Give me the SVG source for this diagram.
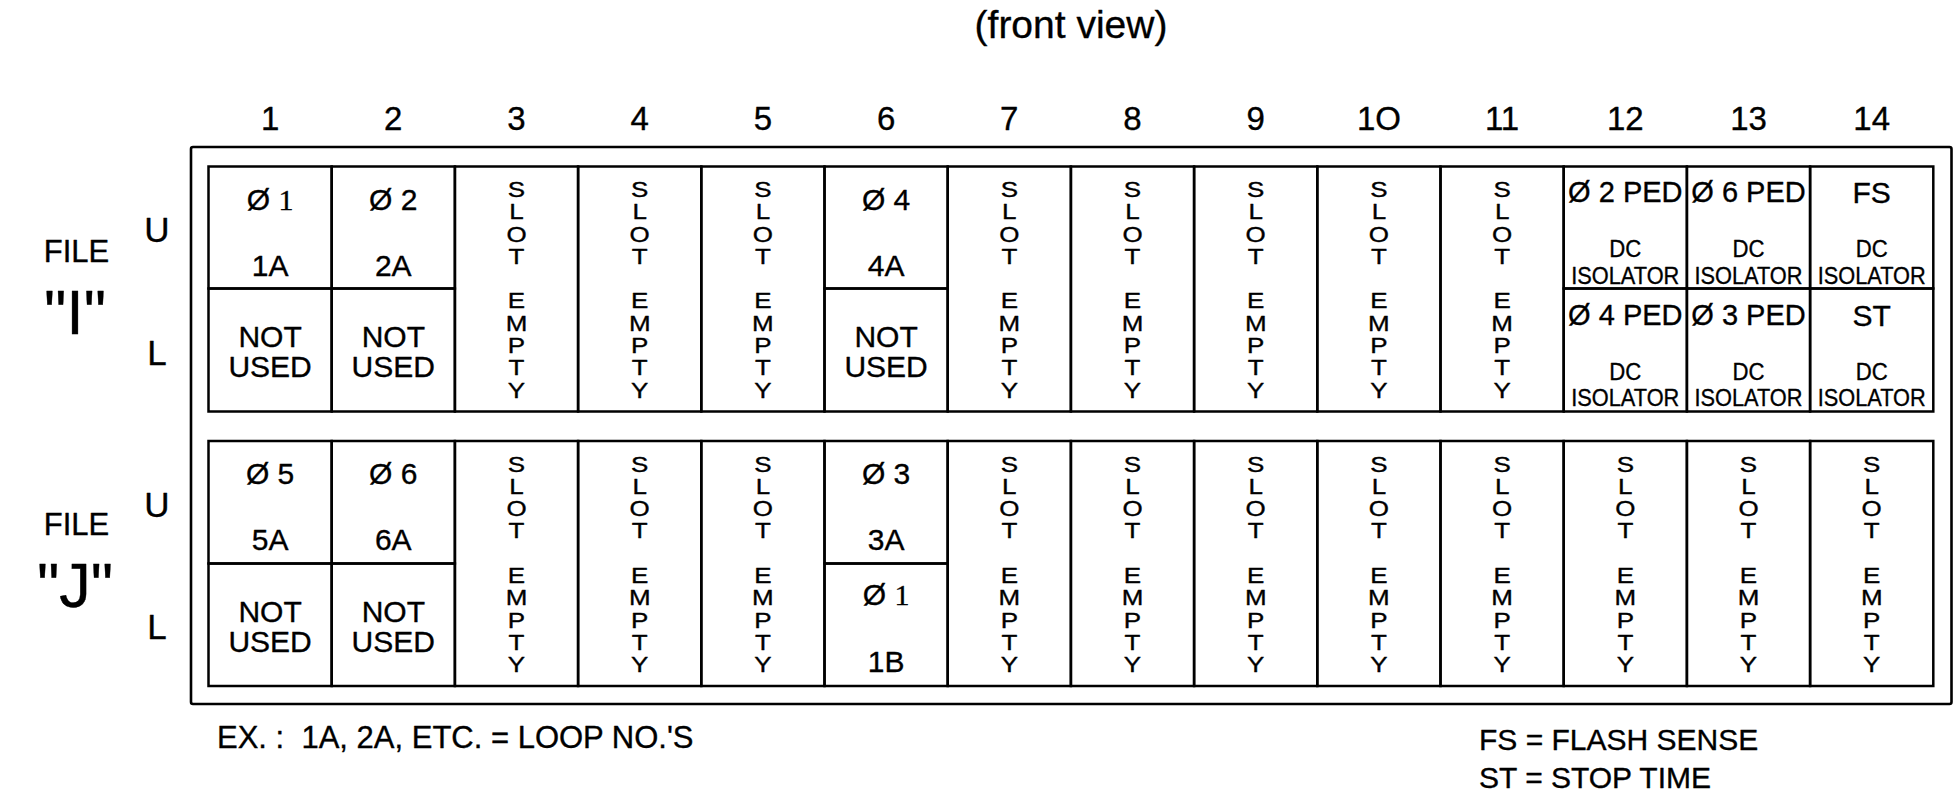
<svg xmlns="http://www.w3.org/2000/svg" width="1960" height="804" viewBox="0 0 1960 804">
<style>
text{font-family:"Liberation Sans",Arial,sans-serif;fill:#000;stroke:#000;stroke-width:0.35px;stroke-linejoin:round;text-anchor:middle}
.frame{fill:none;stroke:#000;stroke-width:2.6;stroke-linejoin:round}
.cell{fill:none;stroke:#000;stroke-width:2.5}
.hdr{font-size:33px}
.t30{font-size:30px}
.ped{font-size:29px}
.dc{font-size:24px}
.se{font-size:22px}
.file{font-size:31px}
.big{font-size:63px}
.ul{font-size:35px}
.note{font-size:30px;text-anchor:start}
.sf{font-family:"Liberation Serif",serif}
</style>
<rect width="1960" height="804" fill="#fff"/>
<text x="1071" y="38" style="font-size:39px">(front view)</text>
<g id="headers">
<text class="hdr" x="270.1" y="130">1</text>
<text class="hdr" x="393.3" y="130">2</text>
<text class="hdr" x="516.5" y="130">3</text>
<text class="hdr" x="639.7" y="130">4</text>
<text class="hdr" x="762.9" y="130">5</text>
<text class="hdr" x="886.1" y="130">6</text>
<text class="hdr" x="1009.3" y="130">7</text>
<text class="hdr" x="1132.5" y="130">8</text>
<text class="hdr" x="1255.7" y="130">9</text>
<text class="hdr" x="1378.9" y="130">1O</text>
<text class="hdr" x="1502.1" y="130">11</text>
<text class="hdr" x="1625.3" y="130">12</text>
<text class="hdr" x="1748.5" y="130">13</text>
<text class="hdr" x="1871.7" y="130">14</text>
</g>
<g id="outer-frame"><rect class="frame" x="191" y="147" width="1760.5" height="557" rx="2"/></g>
<g id="file-labels">
<text class="file" x="76.5" y="261.5">FILE</text>
<text class="big" x="75" y="334">"I"</text>
<text class="ul" x="157" y="242">U</text>
<text class="ul" x="157" y="365">L</text>
<text class="file" x="76.5" y="535">FILE</text>
<text class="big" x="75" y="607">"J"</text>
<text class="ul" x="157" y="516.5">U</text>
<text class="ul" x="157" y="638.5">L</text>
</g>
<defs>
<g id="slotU">
<text class="se" transform="scale(1.18 1)"><tspan x="0" y="0">S</tspan><tspan x="0" dy="22.3">L</tspan><tspan x="0" dy="22.3">O</tspan><tspan x="0" dy="22.3">T</tspan><tspan x="0" dy="44.6">E</tspan><tspan x="0" dy="22.3">M</tspan><tspan x="0" dy="22.3">P</tspan><tspan x="0" dy="22.3">T</tspan><tspan x="0" dy="22.3">Y</tspan></text>
</g>
</defs>
<g id="file-I">
<g id="I-1"><rect class="cell" x="208.5" y="166.5" width="123.2" height="122"/><rect class="cell" x="208.5" y="288.5" width="123.2" height="123"/>
<text class="t30" x="270.1" y="209.5">Ø <tspan class="sf">1</tspan></text><text class="t30" x="270.1" y="275.5">1A</text><text class="t30" x="270.1" y="346.5">NOT</text><text class="t30" x="270.1" y="376.5">USED</text></g>
<g id="I-2"><rect class="cell" x="331.7" y="166.5" width="123.2" height="122"/><rect class="cell" x="331.7" y="288.5" width="123.2" height="123"/>
<text class="t30" x="393.3" y="209.5">Ø 2</text><text class="t30" x="393.3" y="275.5">2A</text><text class="t30" x="393.3" y="346.5">NOT</text><text class="t30" x="393.3" y="376.5">USED</text></g>
<g id="I-3"><rect class="cell" x="454.9" y="166.5" width="123.2" height="245"/><use href="#slotU" x="516.5" y="197"/></g>
<g id="I-4"><rect class="cell" x="578.1" y="166.5" width="123.2" height="245"/><use href="#slotU" x="639.7" y="197"/></g>
<g id="I-5"><rect class="cell" x="701.3" y="166.5" width="123.2" height="245"/><use href="#slotU" x="762.9" y="197"/></g>
<g id="I-6"><rect class="cell" x="824.5" y="166.5" width="123.2" height="122"/><rect class="cell" x="824.5" y="288.5" width="123.2" height="123"/>
<text class="t30" x="886.1" y="209.5">Ø 4</text><text class="t30" x="886.1" y="275.5">4A</text><text class="t30" x="886.1" y="346.5">NOT</text><text class="t30" x="886.1" y="376.5">USED</text></g>
<g id="I-7"><rect class="cell" x="947.7" y="166.5" width="123.2" height="245"/><use href="#slotU" x="1009.3" y="197"/></g>
<g id="I-8"><rect class="cell" x="1070.9" y="166.5" width="123.2" height="245"/><use href="#slotU" x="1132.5" y="197"/></g>
<g id="I-9"><rect class="cell" x="1194.1" y="166.5" width="123.2" height="245"/><use href="#slotU" x="1255.7" y="197"/></g>
<g id="I-10"><rect class="cell" x="1317.3" y="166.5" width="123.2" height="245"/><use href="#slotU" x="1378.9" y="197"/></g>
<g id="I-11"><rect class="cell" x="1440.5" y="166.5" width="123.2" height="245"/><use href="#slotU" x="1502.1" y="197"/></g>
<g id="I-12"><rect class="cell" x="1563.7" y="166.5" width="123.2" height="122"/><rect class="cell" x="1563.7" y="288.5" width="123.2" height="123"/>
<text class="ped" x="1625.3" y="201.5">Ø 2 PED</text><text class="dc" x="1625.3" y="257" textLength="32" lengthAdjust="spacingAndGlyphs">DC</text><text class="dc" x="1625.3" y="283.5" textLength="108" lengthAdjust="spacingAndGlyphs">ISOLATOR</text>
<text class="ped" x="1625.3" y="325">Ø 4 PED</text><text class="dc" x="1625.3" y="380" textLength="32" lengthAdjust="spacingAndGlyphs">DC</text><text class="dc" x="1625.3" y="405.5" textLength="108" lengthAdjust="spacingAndGlyphs">ISOLATOR</text></g>
<g id="I-13"><rect class="cell" x="1686.9" y="166.5" width="123.2" height="122"/><rect class="cell" x="1686.9" y="288.5" width="123.2" height="123"/>
<text class="ped" x="1748.5" y="201.5">Ø 6 PED</text><text class="dc" x="1748.5" y="257" textLength="32" lengthAdjust="spacingAndGlyphs">DC</text><text class="dc" x="1748.5" y="283.5" textLength="108" lengthAdjust="spacingAndGlyphs">ISOLATOR</text>
<text class="ped" x="1748.5" y="325">Ø 3 PED</text><text class="dc" x="1748.5" y="380" textLength="32" lengthAdjust="spacingAndGlyphs">DC</text><text class="dc" x="1748.5" y="405.5" textLength="108" lengthAdjust="spacingAndGlyphs">ISOLATOR</text></g>
<g id="I-14"><rect class="cell" x="1810.1" y="166.5" width="123.2" height="122"/><rect class="cell" x="1810.1" y="288.5" width="123.2" height="123"/>
<text class="t30" x="1871.7" y="202.5">FS</text><text class="dc" x="1871.7" y="257" textLength="32" lengthAdjust="spacingAndGlyphs">DC</text><text class="dc" x="1871.7" y="283.5" textLength="108" lengthAdjust="spacingAndGlyphs">ISOLATOR</text>
<text class="t30" x="1871.7" y="326">ST</text><text class="dc" x="1871.7" y="380" textLength="32" lengthAdjust="spacingAndGlyphs">DC</text><text class="dc" x="1871.7" y="405.5" textLength="108" lengthAdjust="spacingAndGlyphs">ISOLATOR</text></g>
</g>
<g id="file-J">
<g id="J-1"><rect class="cell" x="208.5" y="441" width="123.2" height="122.5"/><rect class="cell" x="208.5" y="563.5" width="123.2" height="122.5"/>
<text class="t30" x="270.1" y="484">Ø 5</text><text class="t30" x="270.1" y="550">5A</text><text class="t30" x="270.1" y="621.5">NOT</text><text class="t30" x="270.1" y="651.5">USED</text></g>
<g id="J-2"><rect class="cell" x="331.7" y="441" width="123.2" height="122.5"/><rect class="cell" x="331.7" y="563.5" width="123.2" height="122.5"/>
<text class="t30" x="393.3" y="484">Ø 6</text><text class="t30" x="393.3" y="550">6A</text><text class="t30" x="393.3" y="621.5">NOT</text><text class="t30" x="393.3" y="651.5">USED</text></g>
<g id="J-3"><rect class="cell" x="454.9" y="441" width="123.2" height="245"/><use href="#slotU" x="516.5" y="471.5"/></g>
<g id="J-4"><rect class="cell" x="578.1" y="441" width="123.2" height="245"/><use href="#slotU" x="639.7" y="471.5"/></g>
<g id="J-5"><rect class="cell" x="701.3" y="441" width="123.2" height="245"/><use href="#slotU" x="762.9" y="471.5"/></g>
<g id="J-6"><rect class="cell" x="824.5" y="441" width="123.2" height="122.5"/><rect class="cell" x="824.5" y="563.5" width="123.2" height="122.5"/>
<text class="t30" x="886.1" y="484">Ø 3</text><text class="t30" x="886.1" y="550">3A</text><text class="t30" x="886.1" y="605">Ø <tspan class="sf">1</tspan></text><text class="t30" x="886.1" y="671.5">1B</text></g>
<g id="J-7"><rect class="cell" x="947.7" y="441" width="123.2" height="245"/><use href="#slotU" x="1009.3" y="471.5"/></g>
<g id="J-8"><rect class="cell" x="1070.9" y="441" width="123.2" height="245"/><use href="#slotU" x="1132.5" y="471.5"/></g>
<g id="J-9"><rect class="cell" x="1194.1" y="441" width="123.2" height="245"/><use href="#slotU" x="1255.7" y="471.5"/></g>
<g id="J-10"><rect class="cell" x="1317.3" y="441" width="123.2" height="245"/><use href="#slotU" x="1378.9" y="471.5"/></g>
<g id="J-11"><rect class="cell" x="1440.5" y="441" width="123.2" height="245"/><use href="#slotU" x="1502.1" y="471.5"/></g>
<g id="J-12"><rect class="cell" x="1563.7" y="441" width="123.2" height="245"/><use href="#slotU" x="1625.3" y="471.5"/></g>
<g id="J-13"><rect class="cell" x="1686.9" y="441" width="123.2" height="245"/><use href="#slotU" x="1748.5" y="471.5"/></g>
<g id="J-14"><rect class="cell" x="1810.1" y="441" width="123.2" height="245"/><use href="#slotU" x="1871.7" y="471.5"/></g>
</g>
<g id="connectors"></g>
<g id="notes">
<text class="note" x="217" y="748" style="font-size:31px">EX. :&#160; 1A, 2A, ETC. = LOOP NO.'S</text>
<text class="note" x="1479" y="750">FS = FLASH SENSE</text>
<text class="note" x="1479" y="788">ST = STOP TIME</text>
</g>
</svg>
